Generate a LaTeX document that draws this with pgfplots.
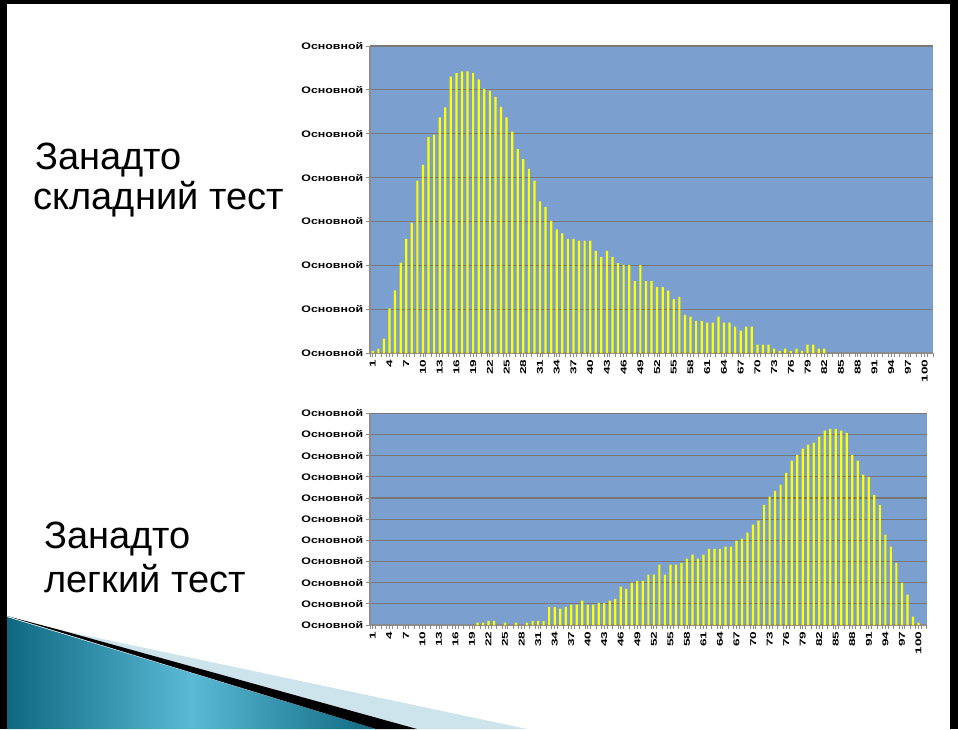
\documentclass[border=0pt]{standalone}
\usepackage{pgfplots}
\pgfplotsset{compat=1.18}
\usepackage{fontspec}
\setmainfont{Liberation Sans}

\definecolor{plotbg}{RGB}{123,159,207}
\definecolor{gridgray}{RGB}{120,120,120}
\definecolor{axisgray}{RGB}{140,140,140}
\definecolor{barfill}{RGB}{255,255,0}
\definecolor{tealdark}{RGB}{14,104,128}
\definecolor{teallight}{RGB}{90,186,214}
\definecolor{paleblue}{RGB}{205,228,236}

% hard test: share of students per score
\pgfplotstableread{
x y
1 0.05
2 0.10
3 0.33
4 1.02
5 1.43
6 2.06
7 2.60
8 2.97
9 3.93
10 4.29
11 4.92
12 4.98
13 5.37
14 5.60
15 6.30
16 6.38
17 6.42
18 6.42
19 6.38
20 6.24
21 6.02
22 5.98
23 5.84
24 5.61
25 5.37
26 5.05
27 4.65
28 4.42
29 4.20
30 3.93
31 3.46
32 3.33
33 3.01
34 2.82
35 2.73
36 2.60
37 2.60
38 2.56
39 2.56
40 2.56
41 2.33
42 2.19
43 2.33
44 2.19
45 2.05
46 2.01
47 2.01
48 1.64
49 2.01
50 1.64
51 1.64
52 1.50
53 1.50
54 1.42
55 1.23
56 1.28
57 0.87
58 0.83
59 0.73
60 0.73
61 0.69
62 0.69
63 0.83
64 0.69
65 0.69
66 0.60
67 0.51
68 0.60
69 0.60
70 0.19
71 0.19
72 0.19
73 0.10
74 0.05
75 0.10
76 0.05
77 0.10
78 0.05
79 0.19
80 0.19
81 0.10
82 0.10
}\hardtest

% easy test
\pgfplotstableread{
x y
20 0.11
21 0.11
22 0.20
23 0.20
25 0.11
27 0.11
29 0.11
30 0.20
31 0.20
32 0.20
33 0.86
34 0.86
35 0.77
36 0.86
37 0.96
38 0.96
39 1.15
40 0.96
41 0.96
42 1.05
43 1.05
44 1.15
45 1.24
46 1.81
47 1.71
48 2.00
49 2.09
50 2.09
51 2.38
52 2.38
53 2.85
54 2.38
55 2.85
56 2.85
57 2.94
58 3.13
59 3.32
60 3.13
61 3.32
62 3.60
63 3.60
64 3.60
65 3.70
66 3.70
67 3.98
68 4.08
69 4.36
70 4.74
71 4.93
72 5.68
73 6.06
74 6.34
75 6.63
76 7.19
77 7.76
78 8.04
79 8.33
80 8.52
81 8.61
82 8.90
83 9.18
84 9.27
85 9.27
86 9.18
87 9.08
88 8.04
89 7.76
90 7.10
91 7.00
92 6.15
93 5.68
94 4.27
95 3.70
96 2.94
97 2.00
98 1.43
99 0.39
100 0.11
}\easytest

\pgfplotsset{
  slidechart/.style={
    scale only axis,
    anchor=south west,
    ybar, bar width=2.2pt,
    xmin=0.5, xmax=101.5, ymin=0,
    axis background/.style={fill=plotbg},
    axis x line*=bottom, axis y line*=left,
    axis line style={axisgray, line width=1.2pt},
    xtick={1,4,...,100},
    minor xtick={0.5,1.5,...,101.5},
    ymajorgrids, grid style={gridgray, line width=1.2pt},
    tick style={axisgray, line width=0.8pt},
    major tick length=4pt, minor tick length=4pt,
    xtick pos=bottom, ytick pos=left,
    tick align=outside,
    /pgf/number format/assume math mode=true,
    xticklabel style={font=\bfseries\fontsize{8.5}{9}\selectfont, rotate=90, anchor=east, xscale=1.6, inner sep=1.5pt},
    yticklabel style={font=\bfseries\fontsize{9.5}{10}\selectfont, xscale=1.3, anchor=east, inner sep=2pt},
    yticklabel={Основной},
  },
}

\begin{document}
\begin{tikzpicture}[x=1pt,y=1pt]
\useasboundingbox (0,0) rectangle (958,729);
\fill[white] (0,0) rectangle (958,729);

% bottom-left swoosh
\shade[left color=tealdark, right color=tealdark, middle color=teallight]
  (7,0) -- (7,112) -- (376,0) -- cycle;
\fill[paleblue] (60,99) -- (527,0) -- (417,0) -- cycle;
\fill[black] (7,113) -- (60,99) -- (417,0) -- (376,0) -- cycle;
% slide frame
\fill[black] (0,0) rectangle (7,729);
\fill[black] (0,725) rectangle (958,729);
\fill[black] (950,0) rectangle (958,729);

\node[anchor=base west, font=\fontsize{38}{44}\selectfont] at (32,559) {Занадто};
\node[anchor=base west, font=\fontsize{38}{44}\selectfont] at (30,519) {складний тест};
\node[anchor=base west, font=\fontsize{38}{44}\selectfont] at (41,181) {Занадто};
\node[anchor=base west, font=\fontsize{38}{44}\selectfont] at (41,137) {легкий тест};

\begin{axis}[slidechart, at={(370pt,376pt)}, width=563pt, height=307pt,
  ymax=7, ytick={0,1,...,7}]
  \addplot[fill=barfill, draw=none] table {\hardtest};
\end{axis}

\begin{axis}[slidechart, at={(370pt,104pt)}, width=556.7pt, height=211.7pt,
  ymax=10, ytick={0,1,...,10}]
  \addplot[fill=barfill, draw=none] table {\easytest};
\end{axis}
\end{tikzpicture}
\end{document}
